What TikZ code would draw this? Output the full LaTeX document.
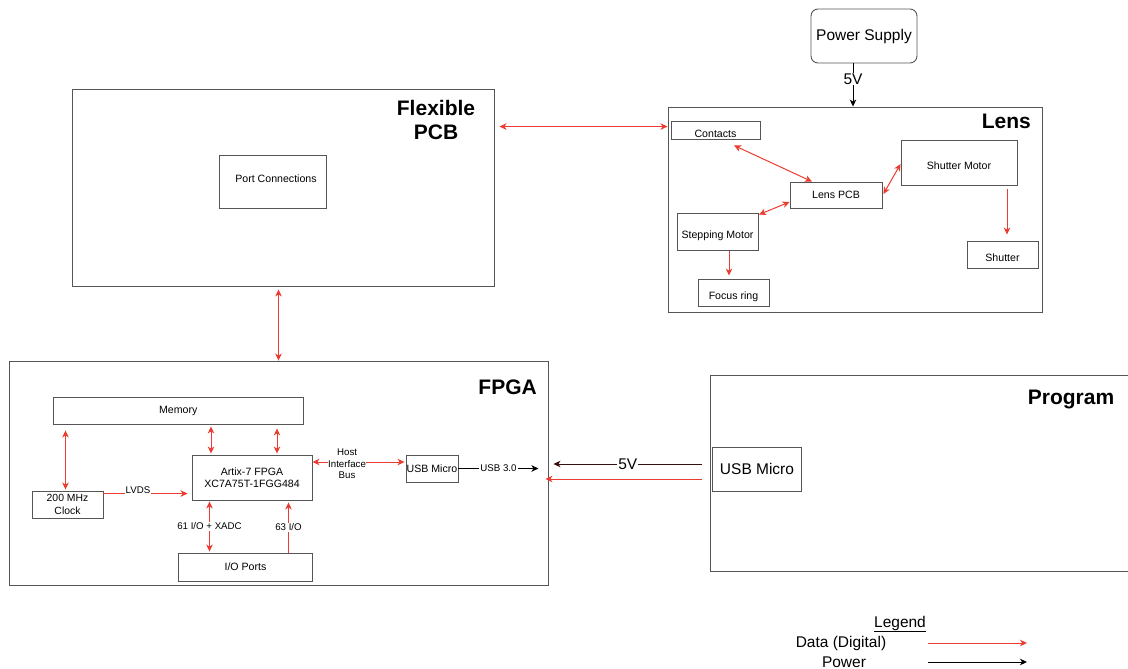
\documentclass[tikz,border=0pt]{standalone}
\usepackage{fontspec}
\setmainfont{Liberation Sans}
\usetikzlibrary{arrows.meta,calc}
\definecolor{datared}{RGB}{234,60,48}
\definecolor{boxgray}{RGB}{85,85,85}
\definecolor{pwrdark}{RGB}{55,15,15}
\tikzset{
  box/.style={draw=boxgray, line width=0.9pt, inner sep=0pt, align=center,
              font=\fontsize{10.6}{12}\selectfont},
  lowtext/.style={text height=14pt, text depth=0pt},
  big/.style={font=\fontsize{15.5}{18.6}\selectfont},
  title/.style={inner sep=0pt, align=center, font=\fontsize{21}{24}\selectfont\bfseries},
  lbl/.style={fill=white, inner sep=1pt, align=center, font=\fontsize{9.7}{11.6}\selectfont},
  data/.style={draw=datared, line width=1pt},
  pwr/.style={draw=black, line width=0.9pt},
  >={Stealth[length=7pt,width=6.5pt,inset=2pt]}
}
\begin{document}
\begin{tikzpicture}[x=1pt,y=-1pt]
\useasboundingbox (0,0) rectangle (1128,669);
\clip (0,0) rectangle (1128,669);

% ---------- power supply ----------
\node[box, rounded corners=7pt, minimum width=106pt, minimum height=54pt, big] (ps) at (864,36) {Power Supply};

% ---------- lens ----------
\node[box, minimum width=374pt, minimum height=205pt] (lens) at (855,209.5) {};
\node[title, anchor=base east] (lenstitle) at (1031,128.5) {Lens};
\node[box, lowtext, minimum width=89pt, minimum height=18pt] (contacts) at (715.5,130) {Contacts};
\node[box, minimum width=92pt, minimum height=26pt] (lenspcb) at (836,195) {Lens PCB};
\node[box, lowtext, minimum width=116pt, minimum height=45pt] (shutm) at (959,162.5) {Shutter Motor};
\node[box, lowtext, minimum width=81pt, minimum height=37pt] (stepm) at (717.5,231.5) {Stepping Motor};
\node[box, lowtext, minimum width=71pt, minimum height=27pt] (focus) at (733.5,292.5) {Focus ring};
\node[box, lowtext, minimum width=71pt, minimum height=27pt] (shutter) at (1002.5,254.5) {Shutter};

% ---------- flexible PCB ----------
\node[box, minimum width=422pt, minimum height=197pt] (flex) at (283,187.5) {};
\node[title] (flextitle) at (436,120) {Flexible\\PCB};
\node[box, minimum width=107pt, minimum height=53pt, text depth=5pt] (port) at (272.5,181.5) {\hspace*{7pt}Port Connections};

% ---------- FPGA ----------
\node[box, minimum width=539pt, minimum height=224pt] (fpga) at (278.5,473) {};
\node[title, anchor=base east] (fpgatitle) at (537,394.5) {FPGA};
\node[box, minimum width=250pt, minimum height=27pt] (memory) at (178.3,410.5) {Memory};
\node[box, minimum width=120pt, minimum height=45pt] (artix) at (252,477.5) {Artix-7 FPGA\\XC7A75T-1FGG484};
\node[box, minimum width=71pt, minimum height=27pt, font=\fontsize{10.4}{13.5}\selectfont] (clock) at (67.5,504.5) {200 MHz\\Clock};
\node[box, minimum width=134pt, minimum height=28pt] (ioports) at (245.5,567) {I/O Ports};
\node[box, minimum width=52pt, minimum height=27pt] (usbf) at (432,468.5) {USB Micro};

% ---------- program ----------
\node[box, anchor=north west, minimum width=430pt, minimum height=196pt] (prog) at (710,375) {};
\node[title, anchor=base] (progtitle) at (1071,404.5) {Program};
\node[box, minimum width=89pt, minimum height=44pt, big] (usbp) at (757,469) {USB Micro};

% ---------- connectors: power ----------
\draw[pwr,->] ([xshift=-11pt]ps.south) -- ($(ps.south |- lens.north)+(-11,0)$)
  node[pos=0.36, fill=white, inner sep=1pt, big] {5V};
\draw[pwr,->] (usbf.east) -- ($(fpga.east |- usbf.east)+(-10,0)$)
  node[lbl, pos=0.5] {USB 3.0};
\draw[pwr,->, draw=pwrdark] ($(usbp.west)+(-10,-5)$) -- ($(fpga.east |- usbp.west)+(5,-5)$)
  node[pos=0.5, fill=white, inner sep=1pt, big] {5V};

% ---------- connectors: data ----------
\draw[data,<->] ($(flex.east |- contacts.north)+(5,6)$) -- ($(lens.west |- contacts.north)+(0,6)$);
\draw[data,<->] ($(flex.south -| fpga.north)+(0,3)$) -- (fpga.north);

\draw[data,<->] ($(contacts.south)+(18.5,6)$) -- ($(lenspcb.north)+(-24,0)$);
\draw[data,<->] ($(lenspcb.east)+(1,-1)$) -- ($(shutm.west)+(0,1.5)$);
\draw[data,<->] ($(stepm.north east)+(0.5,2)$) -- ($(lenspcb.west)+(0,7)$);
\draw[data,->] ($(stepm.south)+(11.5,1)$) -- ($(stepm.south |- focus.north)+(11.5,-3)$);
\draw[data,->] ($(shutm.south)+(48,4)$) -- ($(shutm.south |- shutter.north)+(48,-6)$);

\draw[data,<->] ($(clock.north)+(-2,-1)$) -- ($(clock.north |- memory.south)+(-2,6)$);
\draw[data,<->] ($(artix.north)+(-41,-1)$) -- ($(artix.north |- memory.south)+(-41,2)$);
\draw[data,<->] ($(artix.north)+(25,-1)$) -- ($(artix.north |- memory.south)+(25,4)$);
\draw[data,->] ($(clock.north east)+(0,3)$) -- ($(clock.north east -| artix.west)+(-4,3)$)
  node[lbl, pos=0.41, yshift=3pt] {LVDS};
\draw[data,<->] ($(artix.east)+(0,-15.5)$) -- ($(usbf.west)+(-1,-6.5)$)
  node[lbl, pos=0.376, yshift=-2pt, inner sep=0pt] {Host\\Interface\\Bus};
\draw[data,<->] ($(artix.south)+(-42.5,1)$) -- ($(artix.south |- ioports.north)+(-42.5,-1)$)
  node[lbl, midway] {61 I/O + XADC};
\draw[data,->] ($(artix.south |- ioports.north)+(36.5,0)$) -- ($(artix.south)+(36.5,2)$)
  node[lbl, midway] {63 I/O};

\draw[data,->] ($(usbp.west)+(-10,10)$) -- ($(fpga.east |- usbp.west)+(-3,10)$);

% ---------- legend ----------
\node[big] (legtitle) at (900,624) {\underline{Legend}};
\node[big] (legdata) at (841,643) {Data (Digital)};
\node[big] (legpwr) at (844,662) {Power};
\coordinate (ld1) at (928,643);
\coordinate (ld2) at (1027,643);
\coordinate (lp1) at (928,662);
\coordinate (lp2) at (1027,662);
\draw[data,->] (ld1) -- (ld2);
\draw[pwr,->] (lp1) -- (lp2);
\end{tikzpicture}
\end{document}
